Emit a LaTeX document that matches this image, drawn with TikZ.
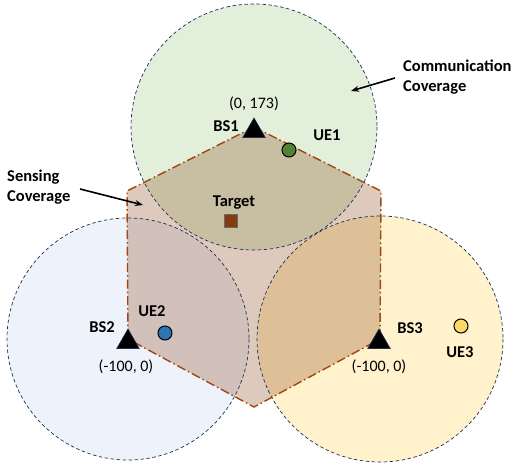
\documentclass[tikz,border=0pt]{standalone}
\usepackage{fontspec}
\setmainfont{Carlito}
\begin{document}
\begin{tikzpicture}[x=1pt,y=-1pt,
  cover/.style={draw=navy, dashed, dash pattern=on 3.5pt off 2.5pt, line width=0.7pt},
  bs/.style={regular polygon, regular polygon sides=3, fill=black, draw=navy, line width=0.6pt, minimum size=26pt, inner sep=0pt},
  ue/.style={circle, draw=black, line width=1pt, minimum size=14pt, inner sep=0pt},
  lbl/.style={font=\bfseries\fontsize{16.5}{18}\selectfont, inner sep=0pt},
  crd/.style={font=\fontsize{16}{18}\selectfont, inner sep=0pt},
  note/.style={font=\bfseries\fontsize{16.5}{20}\selectfont, align=left, inner sep=0pt, anchor=west},
  pointer/.style={-{Stealth[length=8pt,width=6pt]}, line width=1.6pt}]
\usetikzlibrary{shapes.geometric,arrows.meta}
\definecolor{navy}{HTML}{1F3050}
\definecolor{gfill}{HTML}{E2EFDA}
\definecolor{bfill}{HTML}{EEF3FB}
\definecolor{yfill}{HTML}{FFF2CC}
\definecolor{hexfill}{HTML}{843C0C}
\definecolor{hexline}{HTML}{A0460F}
\definecolor{ueg}{HTML}{548235}
\definecolor{ueb}{HTML}{2E75B6}
\definecolor{uey}{HTML}{FFD966}
\definecolor{tgt}{HTML}{843C0C}
\useasboundingbox (0,0) rectangle (517,476);

% base station positions
\coordinate (p1) at (254,127);
\coordinate (p2) at (128,339);
\coordinate (p3) at (380,339);

% communication coverage discs
\fill[gfill] (p1) circle (123);
\fill[bfill] (p2) circle (121);
\fill[yfill] (p3) circle (123);

% sensing coverage hexagon
\coordinate (h1) at (127,191);
\coordinate (h2) at (381,191);
\coordinate (h3) at (254,407);
\fill[hexfill, opacity=0.27] (p1) -- (h2) -- (p3) -- (h3) -- (p2) -- (h1) -- cycle;

\draw[cover] (p1) circle (123);
\draw[cover] (p2) circle (121);
\draw[cover] (p3) circle (123);
\draw[hexline, line width=1.4pt, dash pattern=on 9pt off 3pt on 1.5pt off 3pt]
  (p1) -- (h2) -- (p3) -- (h3) -- (p2) -- (h1) -- cycle;

% base stations
\node[bs] (bs1) at (254,131) {};
\node[bs] (bs2) at (128,342) {};
\node[bs] (bs3) at (379,342) {};
\node[lbl] (bs1l) at (226,126) {BS1};
\node[lbl] (bs2l) at (102,327) {BS2};
\node[lbl] (bs3l) at (410,328) {BS3};
\node[crd] (bs1c) at (254,104) {(0, 173)};
\node[crd] (bs2c) at (126,367) {(-100, 0)};
\node[crd] (bs3c) at (379,367) {(-100, 0)};

% user equipment
\node[ue, fill=ueg] (ue1) at (289,150) {};
\node[ue, fill=ueb] (ue2) at (165,333) {};
\node[ue, fill=uey] (ue3) at (461,326) {};
\node[lbl] (ue1l) at (327,135) {UE1};
\node[lbl] (ue2l) at (152,311) {UE2};
\node[lbl] (ue3l) at (460,352) {UE3};

% target
\node[draw=gray!70!navy, fill=tgt, line width=0.8pt, minimum size=13pt, inner sep=0pt] (tgt) at (231,221) {};
\node[lbl] (tgtl) at (234,203) {Target};

% annotations
\node[note] (sens) at (7,187) {Sensing\\Coverage};
\node[note] (comm) at (403,77) {Communication\\Coverage};
\coordinate (sensEnd) at (143,205);
\coordinate (commEnd) at (351,91);
\draw[pointer] (80,189) -- (sensEnd);
\draw[pointer] (395,78) -- (commEnd);
\end{tikzpicture}
\end{document}
